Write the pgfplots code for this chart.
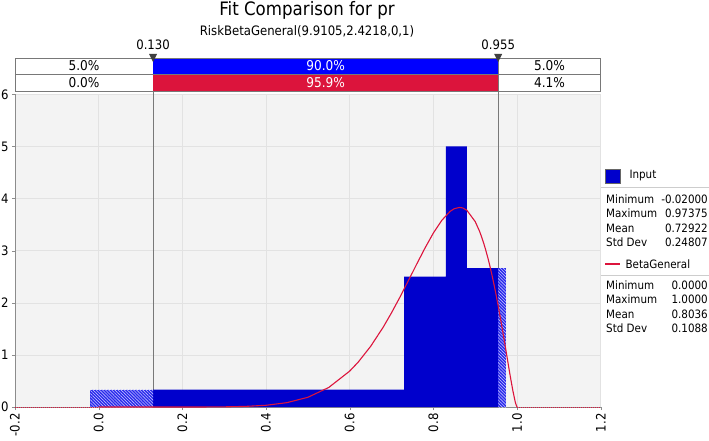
\documentclass[border=0pt]{standalone}
\usepackage{fontspec}
\setmainfont{DejaVu Sans}[FakeStretch=0.9]
\usepackage{pgfplots}
\pgfplotsset{compat=1.18}
\usetikzlibrary{patterns.meta}

\definecolor{histblue}{RGB}{0,0,204}
\definecolor{hatchblue}{RGB}{40,40,235}
\definecolor{boxblue}{RGB}{0,0,255}
\definecolor{crimson}{RGB}{220,20,60}
\definecolor{plotbg}{RGB}{243,243,243}
\definecolor{gridc}{RGB}{226,226,226}
\definecolor{axisgray}{RGB}{140,140,140}
\definecolor{markgray}{RGB}{120,120,120}
\definecolor{sepgray}{RGB}{205,205,205}

\begin{document}
\begin{tikzpicture}
\begin{axis}[
    scale only axis,
    width=585.7pt, height=312.7pt,
    xmin=-0.2, xmax=1.2, ymin=0, ymax=6,
    clip=false,
    axis background/.style={fill=plotbg},
    axis lines=left,
    axis line style={-, draw=axisgray},
    grid=major,
    grid style={draw=gridc, line width=0.5pt},
    xtick={-0.2,0,0.2,0.4,0.6,0.8,1.0,1.2},
    ytick={0,1,2,3,4,5,6},
    tick align=outside,
    major tick length=3pt,
    tick style={draw=axisgray},
    /pgf/number format/assume math mode=true,
    xticklabel style={rotate=90, anchor=east, font=\fontsize{13}{15}\selectfont,
        /pgf/number format/fixed, /pgf/number format/precision=1,
        /pgf/number format/fixed zerofill},
    yticklabel style={font=\fontsize{13}{15}\selectfont},
]
% percentile marker lines
\draw[markgray, line width=0.6pt] (axis cs:0.13,0) -- (axis cs:0.13,6.70);
\draw[markgray, line width=0.6pt] (axis cs:0.955,0) -- (axis cs:0.955,6.70);

% histogram (solid part)
\addplot[ybar interval, fill=histblue, draw=none] coordinates {
  (0.13,0.3333)(0.73,2.5)(0.83,5)(0.88,2.667)(0.955,0)
};
% histogram (hatched tails)
\addplot[ybar interval, fill=hatchblue, draw=none,
  postaction={pattern={Lines[angle=-45,distance=2.2pt,line width=0.6pt]}, pattern color=white!75!blue}]
  coordinates {(-0.02,0.3333)(0.13,0)};
\addplot[ybar interval, fill=hatchblue, draw=none,
  postaction={pattern={Lines[angle=-45,distance=2.2pt,line width=0.6pt]}, pattern color=white!75!blue}]
  coordinates {(0.955,2.667)(0.97375,0)};

% fitted BetaGeneral density
\addplot[crimson, line width=1.1pt] coordinates {
  (0,0)(0.2,0.0001)(0.25,0.0007)(0.3,0.0032)(0.35,0.0113)(0.4,0.0331)
  (0.45,0.0835)(0.5,0.1864)(0.55,0.375)(0.6,0.689)(0.62,0.858)(0.65,1.163)
  (0.68,1.530)(0.7,1.808)(0.72,2.106)(0.75,2.579)(0.76,2.739)(0.78,3.050)
  (0.8,3.338)(0.82,3.580)(0.84,3.754)(0.85,3.805)(0.8624,3.830)(0.87,3.820)
  (0.88,3.775)(0.9,3.558)(0.91,3.380)(0.915,3.272)(0.92,3.151)(0.925,3.017)
  (0.93,2.870)(0.935,2.709)(0.94,2.536)(0.945,2.349)(0.95,2.150)(0.955,1.940)
  (0.96,1.719)(0.965,1.489)(0.97,1.252)(0.975,1.012)(0.98,0.771)(0.985,0.536)
  (0.99,0.315)(0.995,0.123)(0.997,0.061)(1.0,0)
};
\addplot[crimson, line width=1pt, densely dotted] coordinates {(-0.2,0)(0,0)};
\addplot[crimson, line width=1pt, densely dotted] coordinates {(1.0,0)(1.2,0)};

% delimiter bars
\fill[boxblue] (axis cs:0.13,6.385) rectangle (axis cs:0.955,6.70);
\fill[crimson] (axis cs:0.13,6.052) rectangle (axis cs:0.955,6.385);
\draw[markgray, line width=0.6pt] (axis cs:-0.2,6.052) rectangle (axis cs:1.2,6.70);
\draw[markgray, line width=0.6pt] (axis cs:-0.2,6.385) -- (axis cs:1.2,6.385);

\node[font=\fontsize{13}{15}\selectfont] at (axis cs:0.13,6.96) {0.130};
\node[font=\fontsize{13}{15}\selectfont] at (axis cs:0.955,6.96) {0.955};
\node[font=\fontsize{13.5}{15}\selectfont] at (axis cs:-0.035,6.545) {5.0\%};
\node[font=\fontsize{13.5}{15}\selectfont, white] at (axis cs:0.5425,6.545) {90.0\%};
\node[font=\fontsize{13.5}{15}\selectfont] at (axis cs:1.0775,6.545) {5.0\%};
\node[font=\fontsize{13.5}{15}\selectfont] at (axis cs:-0.035,6.218) {0.0\%};
\node[font=\fontsize{13.5}{15}\selectfont, white] at (axis cs:0.5425,6.218) {95.9\%};
\node[font=\fontsize{13.5}{15}\selectfont] at (axis cs:1.0775,6.218) {4.1\%};
\end{axis}

% titles, marker triangles and stats panel, in pixel coordinates of the reference
\begin{scope}[x=1pt, y=-1pt, shift={(-15pt,407pt)}]
\node[font=\fontsize{18.5}{21}\selectfont] at (307,10) {Fit Comparison for pr};
\node[font=\fontsize{13}{15}\selectfont] at (307,31) {RiskBetaGeneral(9.9105,2.4218,0,1)};

\fill[black!75] (153.06,62) -- (149,54) -- (157.1,54) -- cycle;
\fill[black!75] (498.2,62) -- (494.2,54) -- (502.2,54) -- cycle;

\fill[histblue] (605,169) rectangle (620,183);
\draw[black!60, line width=0.4pt] (605,169) rectangle (620,183);
\node[anchor=west, font=\fontsize{11.5}{13}\selectfont] at (626,176) {Input};
\draw[sepgray, line width=0.6pt] (601,187) -- (709,187);
\foreach \lab/\val [count=\i] in {Minimum/-0.02000, Maximum/0.97375, Mean/0.72922, Std Dev/0.24807} {
  \node[anchor=west, font=\fontsize{11.5}{13}\selectfont, inner sep=0pt] at (606,{184.5+14.5*\i}) {\lab};
  \node[anchor=east, font=\fontsize{11.5}{13}\selectfont, inner sep=0pt] at (708,{184.5+14.5*\i}) {\val};
}
\draw[crimson, line width=1.1pt] (605,264) -- (620,264);
\node[anchor=west, font=\fontsize{11.5}{13}\selectfont] at (622,264) {BetaGeneral};
\draw[sepgray, line width=0.6pt] (601,275) -- (709,275);
\foreach \lab/\val [count=\i] in {Minimum/0.0000, Maximum/1.0000, Mean/0.8036, Std Dev/0.1088} {
  \node[anchor=west, font=\fontsize{11.5}{13}\selectfont, inner sep=0pt] at (606,{270.5+14.5*\i}) {\lab};
  \node[anchor=east, font=\fontsize{11.5}{13}\selectfont, inner sep=0pt] at (708,{270.5+14.5*\i}) {\val};
}
\pgfresetboundingbox
\path[use as bounding box] (0,0) rectangle (709,440);
\end{scope}
\end{tikzpicture}
\end{document}
